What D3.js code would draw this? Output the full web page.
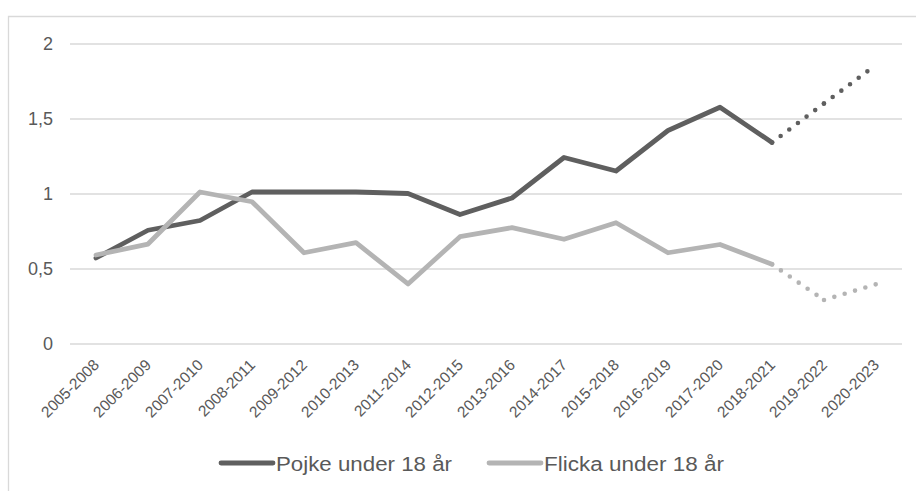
<!DOCTYPE html>
<html>
<head>
<meta charset="utf-8">
<script src="https://cdn.jsdelivr.net/npm/d3@7"></script>
<style>
  body { margin: 0; background: #fff; }
  svg { display: block; font-family: "Liberation Sans", Arial, sans-serif; }
</style>
</head>
<body>
<svg id="chart" width="916" height="491"></svg>
<script>
const categories = ["2005-2008", "2006-2009", "2007-2010", "2008-2011", "2009-2012", "2010-2013",
    "2011-2014", "2012-2015", "2013-2016", "2014-2017", "2015-2018", "2016-2019",
    "2017-2020", "2018-2021", "2019-2022", "2020-2023"];
const pojke = [0.57, 0.755, 0.82, 1.01, 1.01, 1.01, 1.0, 0.86, 0.97, 1.24, 1.15, 1.42, 1.575, 1.34, 1.6, 1.857];
const flicka = [0.59, 0.663, 1.01, 0.945, 0.605, 0.672, 0.397, 0.712, 0.772, 0.695, 0.805, 0.605, 0.66, 0.528, 0.29, 0.395];
const yTicks = [0, 0.5, 1, 1.5, 2];
const lastSolid = 13; // index of 2018-2021, dotted after that

const series = [
    { name: "Pojke under 18 år", values: pojke, color: "#5f5f5f" },
    { name: "Flicka under 18 år", values: flicka, color: "#b4b4b4" }
];

const svg = d3.select("#chart");
const textColor = "#595959";
const gridColor = "#d9d9d9";

// outer chart frame
svg.append("path")
    .attr("d", "M8.5,491 V16.5 H916")
    .attr("fill", "none")
    .attr("stroke", gridColor)
    .attr("stroke-width", 1.3);

const x = d3.scaleBand().domain(categories).range([70, 902]);
const y = d3.scaleLinear().domain([0, 2]).range([343.5, 43.5]);
const cx = d => x(d) + x.bandwidth() / 2;

// y axis with gridlines
const yAxis = svg.append("g")
    .attr("transform", "translate(70,0)")
    .call(d3.axisLeft(y)
        .tickValues(yTicks)
        .tickSize(-(902 - 70))
        .tickPadding(17)
        .tickFormat(d => String(d).replace(".", ",")));
yAxis.select(".domain").remove();
yAxis.selectAll(".tick line").attr("stroke", gridColor).attr("stroke-width", 1.3);
yAxis.selectAll(".tick text")
    .attr("fill", textColor)
    .style("font-size", "18px")
    .style("font-family", "'Liberation Sans', Arial, sans-serif");

// x axis labels, rotated
const xAxis = svg.append("g")
    .attr("transform", "translate(0,343.5)")
    .call(d3.axisBottom(x).tickSize(0));
xAxis.select(".domain").remove();
xAxis.selectAll(".tick text")
    .attr("x", 0).attr("y", 0).attr("dy", 0)
    .attr("text-anchor", "end")
    .attr("transform", "translate(4,22.5) rotate(-45)")
    .attr("fill", textColor)
    .style("font-size", "15.5px")
    .style("font-family", "'Liberation Sans', Arial, sans-serif");

const line = d3.line()
    .x(d => cx(d.cat))
    .y(d => y(d.v));

series.forEach(s => {
    const pts = s.values.map((v, i) => ({ cat: categories[i], v }));
    svg.append("path")
        .datum(pts.slice(0, lastSolid + 1))
        .attr("d", line)
        .attr("fill", "none")
        .attr("stroke", s.color)
        .attr("stroke-width", 4.8)
        .attr("stroke-linejoin", "round")
        .attr("stroke-linecap", "round");
    // dotted part, pattern restarts on each segment
    for (let i = lastSolid; i < pts.length - 1; i++) {
        svg.append("path")
            .datum([pts[i], pts[i + 1]])
            .attr("d", line)
            .attr("fill", "none")
            .attr("stroke", s.color)
            .attr("stroke-width", 4.6)
            .attr("stroke-linecap", "round")
            .attr("stroke-dasharray", "0 10.8");
    }
});

// legend
const legendX = [221, 489];
const legendW = [176, 180];
series.forEach((s, i) => {
    const g = svg.append("g").attr("transform", `translate(${legendX[i]},463)`);
    g.append("line")
        .attr("x1", 0).attr("x2", 52)
        .attr("stroke", s.color)
        .attr("stroke-width", 4.8)
        .attr("stroke-linecap", "round");
    g.append("text")
        .attr("x", 55).attr("y", 7.5)
        .attr("fill", textColor)
        .attr("textLength", legendW[i])
        .attr("lengthAdjust", "spacingAndGlyphs")
        .style("font-size", "20px")
        .text(s.name);
});
</script>
</body>
</html>
